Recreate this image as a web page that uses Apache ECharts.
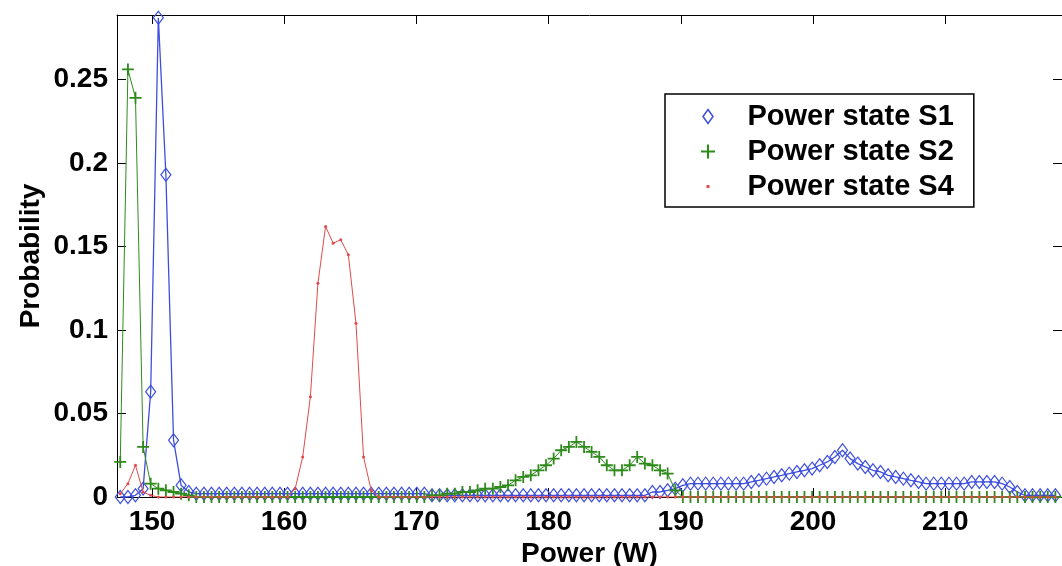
<!DOCTYPE html>
<html>
<head>
<meta charset="utf-8">
<script src="https://cdn.jsdelivr.net/npm/echarts@6/dist/echarts.min.js"></script>
<style>
html,body{margin:0;padding:0;background:#fff;}
#c{width:1062px;height:566px;}
</style>
</head>
<body>
<div id="c"></div>
<script>
// Bin centres (W)
var power = [147.6,148.18,148.75,149.33,149.9,150.48,151.05,151.63,152.2,152.78,
153.35,153.93,154.5,155.08,155.65,156.23,156.8,157.38,157.95,158.53,
159.1,159.68,160.25,160.83,161.4,161.98,162.55,163.13,163.7,164.28,
164.85,165.43,166.0,166.58,167.15,167.73,168.3,168.88,169.45,170.03,
170.6,171.18,171.75,172.33,172.9,173.48,174.05,174.63,175.2,175.78,
176.35,176.93,177.5,178.08,178.65,179.23,179.8,180.38,180.95,181.53,
182.1,182.68,183.25,183.83,184.4,184.98,185.55,186.13,186.7,187.28,
187.85,188.43,189.0,189.58,190.15,190.73,191.3,191.88,192.45,193.03,
193.6,194.18,194.75,195.33,195.9,196.48,197.05,197.63,198.2,198.78,
199.35,199.93,200.5,201.08,201.65,202.23,202.8,203.38,203.95,204.53,
205.1,205.68,206.25,206.83,207.4,207.98,208.55,209.13,209.7,210.28,
210.85,211.43,212.0,212.58,213.15,213.73,214.3,214.88,215.45,216.03,
216.6,217.18,217.75,218.33];

var s1 = [0,0,0.001,0.005,0.063,0.287,0.193,0.034,0.007,0.003,
0.002,0.002,0.002,0.002,0.002,0.002,0.002,0.002,0.002,0.002,
0.002,0.002,0.002,0.002,0.002,0.002,0.002,0.002,0.002,0.002,
0.002,0.002,0.002,0.002,0.002,0.002,0.002,0.002,0.002,0.002,
0.002,0.001,0.001,0.001,0.001,0.001,0.001,0.001,0.001,0.001,
0.001,0.001,0.001,0.001,0.001,0.001,0.001,0.001,0.001,0.001,
0.001,0.001,0.001,0.001,0.001,0.001,0.001,0.001,0.001,0.001,
0.003,0.003,0.004,0.005,0.007,0.008,0.008,0.008,0.008,0.008,
0.008,0.008,0.008,0.009,0.010,0.011,0.012,0.013,0.014,0.015,
0.016,0.017,0.019,0.021,0.024,0.028,0.023,0.020,0.018,0.016,
0.015,0.013,0.012,0.011,0.010,0.009,0.008,0.008,0.008,0.008,
0.008,0.008,0.009,0.009,0.009,0.009,0.008,0.006,0.003,0.001,
0.001,0.001,0.001,0.001];

var s2 = [0.021,0.256,0.239,0.030,0.008,0.005,0.004,0.003,0.002,0.001,
0,0,0,0,0,0,0,0,0,0,
0,0,0,0,0,0,0,0,0,0,
0,0,0,0,0,0,0,0,0,0,
0,0.001,0.001,0.002,0.002,0.003,0.003,0.004,0.005,0.005,
0.006,0.007,0.010,0.012,0.013,0.016,0.019,0.023,0.028,0.030,
0.033,0.030,0.027,0.024,0.019,0.016,0.016,0.019,0.024,0.020,
0.019,0.016,0.014,0.004,0,0,0,0,0,0,
0,0,0,0,0,0,0,0,0,0,
0,0,0,0,0,0,0,0,0,0,
0,0,0,0,0,0,0,0,0,0,
0,0,0,0,0,0,0,0,0,0,
0,0,0,0];

var s4 = [0.002,0.008,0.019,0.003,0.001,0,0,0,0,0,
0,0,0,0,0,0,0,0,0,0,
0,0,0,0.005,0.024,0.060,0.128,0.162,0.152,0.154,
0.145,0.104,0.024,0.004,0,0,0,0,0,0,
0,0,0,0,0,0,0,0,0,0,
0,0,0,0,0,0,0,0,0,0,
0,0,0,0,0,0,0,0,0,0,
0,0,0,0,0,0,0,0,0,0,
0,0,0,0,0,0,0,0,0,0,
0,0,0,0,0,0,0,0,0,0,
0,0,0,0,0,0,0,0,0,0,
0,0,0,0,0,0,0,0,0,0,
0,0,0,0];

var seriesNames = ['Power state S1','Power state S2','Power state S4'];
var xTicks = [150,160,170,180,190,200,210];
var yTicks = [0,0.05,0.1,0.15,0.2,0.25];
var yTickLabels = ['0','0.05','0.1','0.15','0.2','0.25'];

function pairs(ys){ return power.map(function(x,i){ return [x, ys[i]]; }); }

var FONT = "'Liberation Sans', Arial, sans-serif";
var XMIN = 147.353, XMAX = 218.83, YMAX = 0.2886;
var diamondPath = 'path://M5,0L10,7L5,14L0,7Z';
var plusPath = 'path://M4.25,0H5.75V4.25H10V5.75H5.75V10H4.25V5.75H0V4.25H4.25Z';
var dotPath = 'path://M0,0M14,14M5.5,5.5H8.5V8.5H5.5Z';
var cBlue = '#3d4ede', cGreen = '#2f8a1c', cRed = '#e24a4a';

var tickStyle = {inside:true, length:9, lineStyle:{color:'#000', width:1}};

var chart = echarts.init(document.getElementById('c'), null, {renderer:'canvas'});
chart.setOption({
  animation:false,
  backgroundColor:'#fff',
  grid:{left:117, top:15, right:0, bottom:69, containLabel:false, outerBoundsMode:'none'},
  legend:{
    orient:'vertical', left:665, top:94,
    padding:[8,20,6,36],
    itemWidth:69, itemHeight:14, itemGap:6,
    borderColor:'#000', borderWidth:1.5, backgroundColor:'#fff',
    textStyle:{fontFamily:FONT, fontWeight:'bold', fontSize:29, color:'#000', lineHeight:29},
    data:[
      {name:seriesNames[0], icon:diamondPath, itemStyle:{color:'transparent', borderColor:cBlue, borderWidth:1.5}},
      {name:seriesNames[1], icon:plusPath, itemStyle:{color:cGreen, borderWidth:0}},
      {name:seriesNames[2], icon:dotPath, itemStyle:{color:cRed, borderWidth:0}}
    ]
  },
  xAxis:[{
    type:'value', position:'bottom', min:XMIN, max:XMAX,
    axisLine:{show:true, onZero:false, lineStyle:{color:'#000', width:1}},
    axisTick:Object.assign({customValues:xTicks}, tickStyle),
    axisLabel:{customValues:xTicks, margin:11, fontFamily:FONT, fontWeight:'bold', fontSize:28, color:'#000'},
    splitLine:{show:false},
    name:'Power (W)', nameLocation:'middle', nameGap:43, nameMoveOverlap:false,
    nameTextStyle:{fontFamily:FONT, fontWeight:'bold', fontSize:28, color:'#000'}
  },{
    type:'value', position:'top', min:XMIN, max:XMAX,
    axisLine:{show:true, onZero:false, lineStyle:{color:'#000', width:1}},
    axisTick:Object.assign({customValues:xTicks}, tickStyle),
    axisLabel:{show:false}, splitLine:{show:false}
  }],
  yAxis:[{
    type:'value', position:'left', min:0, max:YMAX,
    axisLine:{show:true, onZero:false, lineStyle:{color:'#000', width:1}},
    axisTick:Object.assign({customValues:yTicks}, tickStyle),
    axisLabel:{customValues:yTicks, margin:9, fontFamily:FONT, fontWeight:'bold', fontSize:28, color:'#000',
      formatter:function(v){ var k = yTicks.indexOf(Math.round(v*100)/100); return k>=0 ? yTickLabels[k] : ''; }},
    splitLine:{show:false},
    name:'Probability', nameLocation:'middle', nameGap:72, nameRotate:90, nameMoveOverlap:false,
    nameTextStyle:{fontFamily:FONT, fontWeight:'bold', fontSize:28, color:'#000'}
  },{
    type:'value', position:'right', min:0, max:YMAX,
    axisLine:{show:true, onZero:false, lineStyle:{color:'#000', width:1}},
    axisTick:Object.assign({customValues:yTicks}, tickStyle),
    axisLabel:{show:false}, splitLine:{show:false}
  }],
  series:[
    {name:seriesNames[0], type:'line', xAxisIndex:0, yAxisIndex:0, data:pairs(s1),
     symbol:diamondPath, symbolSize:[10,13], showAllSymbol:true,
     itemStyle:{color:'transparent', borderColor:cBlue, borderWidth:1.2},
     lineStyle:{color:cBlue, width:1.3}, z:2},
    {name:seriesNames[1], type:'line', xAxisIndex:0, yAxisIndex:0, data:pairs(s2),
     symbol:plusPath, symbolSize:12, showAllSymbol:true,
     itemStyle:{color:cGreen, borderWidth:0},
     lineStyle:{color:cGreen, width:1}, z:3},
    {name:seriesNames[2], type:'line', xAxisIndex:0, yAxisIndex:0, data:pairs(s4),
     symbol:'circle', symbolSize:3, showAllSymbol:true,
     itemStyle:{color:cRed, borderWidth:0},
     lineStyle:{color:cRed, width:1}, z:4}
  ]
});
</script>
</body>
</html>
